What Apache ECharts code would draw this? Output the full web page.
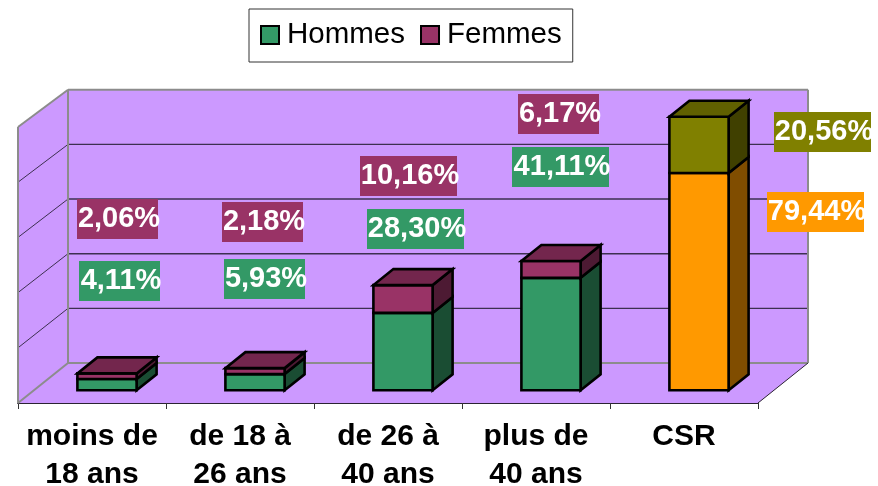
<!DOCTYPE html>
<html lang="en">
<head>
	<meta charset="UTF-8">
	<title>Hommes / Femmes</title>
	<style>
		*{
			margin: 0;
			padding: 0;
		}
		#chart{
			width: 878px;
			height: 486px;
		}
	</style>
	<script src="https://cdn.jsdelivr.net/npm/echarts@6/dist/echarts.min.js"></script>
</head>
<body>
	<div id="chart"></div>
	<script>
		var categories = ['moins de\n18 ans', 'de 18 à\n26 ans', 'de 26 à\n40 ans', 'plus de\n40 ans', 'CSR'];
		var hommes = [4.11, 5.93, 28.30, 41.11, 79.44];
		var femmes = [2.06, 2.18, 10.16, 6.17, 20.56];

		var hommesColors = ['#339966', '#339966', '#339966', '#339966', '#FF9900'];
		var femmesColors = ['#993366', '#993366', '#993366', '#993366', '#808000'];

		// the labels were dragged by hand in the original, top-left corner of each box
		var hommesBoxes = [[79, 261], [224, 259], [367, 209], [512, 147], [767, 192]];
		var femmesBoxes = [[77, 199], [222, 202], [360, 156], [518, 94], [774, 112]];

		var FONT = '"Liberation Sans", Arial, sans-serif';
		var DEPTH_X = 50, DEPTH_Y = 40;
		var BAR_FROM = 0.3, BAR_TO = 0.7, BAR_WIDTH = 0.4, BAR_SCALE = 0.991, BAR_LIFT = 0.7;
		var WALL_SHRINK = 0.99;
		var GREY = '#8c8c8c', GRID = '#3d3050';

		var chart = echarts.init(document.getElementById('chart'));

		// darker face of a bar, k is the share of the colour that is kept
		function shade(hex, k) {
			var n = parseInt(hex.slice(1), 16);
			var r = Math.round((n >> 16) * k), g = Math.round(((n >> 8) & 255) * k), b = Math.round((n & 255) * k);
			return 'rgb(' + r + ',' + g + ',' + b + ')';
		}

		function wallPoint(api, v, d) {
			var p = api.coord([0, v]), y0 = api.coord([0, 0])[1];
			var left = p[0] - api.size([1, 0])[0] / 2;
			return [left + d * DEPTH_X, y0 + (p[1] - y0) * (1 - (1 - WALL_SHRINK) * d) - d * DEPTH_Y];
		}

		function renderWalls(params, api) {
			var w = api.size([1, 0])[0] * categories.length;
			var a = wallPoint(api, 0, 0), b = wallPoint(api, 100, 0);
			var c = wallPoint(api, 100, 1), e = wallPoint(api, 0, 1);
			var right = function (p) { return [p[0] + w, p[1]]; };
			var children = [
				poly([a, b, c, e], '#CC99FF'),
				poly([c, right(c), right(e), e], '#CC99FF'),
				poly([a, e, right(e), right(a)], '#CC99FF')
			];
			[20, 40, 60, 80].forEach(function (v) {
				var f = wallPoint(api, v, 0), g = wallPoint(api, v, 1);
				children.push(line(f, g, GRID, 1));
				children.push(line(g, right(g), GRID, 1.4));
			});
			children.push(line(b, c, GREY, 2));
			children.push(line(a, b, GREY, 2));
			children.push(line(c, right(c), GREY, 2));
			children.push(line(right(c), right(e), GREY, 2));
			children.push(line(e, right(e), GREY, 2));
			children.push(line(c, e, GREY, 2));
			children.push(line(a, e, GREY, 2));
			children.push(line(right(a), right(e), '#2b2333', 1));
			return { type: 'group', children: children };
		}

		function poly(points, fill, stroke) {
			return {
				type: 'polygon',
				shape: { points: points },
				style: { fill: fill, stroke: stroke || null, lineWidth: 2.6, lineJoin: 'miter' }
			};
		}

		function line(p, q, color, width) {
			return {
				type: 'line',
				shape: { x1: p[0], y1: p[1], x2: q[0], y2: q[1] },
				style: { stroke: color, lineWidth: width }
			};
		}

		function renderBar(colors, withTop) {
			return function (params, api) {
				var cat = api.value(0);
				var band = api.size([1, 0])[0];
				var y0 = api.coord([cat, 0])[1];
				var cx = api.coord([cat, 0])[0];
				var half = band * BAR_WIDTH / 2;
				var dx = (BAR_TO - BAR_FROM) * DEPTH_X, dy = (BAR_TO - BAR_FROM) * DEPTH_Y;
				var baseY = y0 - BAR_FROM * DEPTH_Y - BAR_LIFT;
				var x1 = cx + BAR_FROM * DEPTH_X - half, x2 = cx + BAR_FROM * DEPTH_X + half;
				var yLow = baseY + (api.coord([cat, api.value(1)])[1] - y0) * BAR_SCALE;
				var yTop = baseY + (api.coord([cat, api.value(2)])[1] - y0) * BAR_SCALE;
				var color = colors[cat];
				var children = [
					poly([[x2, yLow], [x2 + dx, yLow - dy], [x2 + dx, yTop - dy], [x2, yTop]], shade(color, 0.5), '#000'),
					poly([[x1, yLow], [x2, yLow], [x2, yTop], [x1, yTop]], color, '#000')
				];
				if (withTop) {
					children.push(poly([[x1, yTop], [x2, yTop], [x2 + dx, yTop - dy], [x1 + dx, yTop - dy]], shade(color, 0.75), '#000'));
				}
				return { type: 'group', children: children };
			};
		}

		function labelElements(values, colors, boxes) {
			return values.map(function (v, i) {
				var w = v < 10 ? 81 : 97;
				return {
					type: 'group',
					x: boxes[i][0],
					y: boxes[i][1],
					children: [
						{ type: 'rect', z: 10, shape: { x: 0, y: 0, width: w, height: 40 }, style: { fill: colors[i] } },
						{
							type: 'text',
							z: 11,
							x: w / 2 + 1.5,
							y: 19.5,
							style: {
								text: v.toFixed(2).replace('.', ',') + '%',
								fill: '#fff',
								font: 'bold 29px ' + FONT,
								align: 'center',
								verticalAlign: 'middle'
							}
						}
					]
				};
			});
		}

		var legendBorder = '#000';
		var option = {
			animation: false,
			backgroundColor: '#fff',
			legend: {
				left: 249,
				top: 9,
				padding: [11, 11, 12, 11],
				itemWidth: 18,
				itemHeight: 18,
				itemGap: 15,
				backgroundColor: '#fff',
				borderColor: '#333',
				borderWidth: 1,
				textStyle: { fontFamily: FONT, fontSize: 29.5, color: '#000', padding: [0, 0, 1, 3] },
				data: [
					{ name: 'Hommes', icon: 'rect', itemStyle: { color: '#339966', borderColor: legendBorder, borderWidth: 2 } },
					{ name: 'Femmes', icon: 'rect', itemStyle: { color: '#993366', borderColor: legendBorder, borderWidth: 2 } }
				]
			},
			grid: { left: 18, width: 740, top: 127, height: 276, outerBoundsMode: 'none' },
			xAxis: {
				type: 'category',
				data: categories,
				axisLine: { lineStyle: { color: '#2b2333', width: 2 } },
				axisTick: { show: true, length: 6, lineStyle: { color: '#333', width: 1 } },
				axisLabel: {
					interval: 0,
					margin: 15,
					lineHeight: 38,
					color: '#000',
					fontFamily: FONT,
					fontWeight: 'bold',
					fontSize: 30
				}
			},
			yAxis: { type: 'value', min: 0, max: 100, interval: 20, show: false },
			series: [
				{ name: 'walls', type: 'custom', silent: true, z: 1, renderItem: renderWalls, data: [[0, 0]] },
				{
					name: 'Hommes',
					type: 'custom',
					z: 2,
					renderItem: renderBar(hommesColors, false),
					encode: { x: 0, y: 2 },
					data: hommes.map(function (v, i) { return [i, 0, v]; })
				},
				{
					name: 'Femmes',
					type: 'custom',
					z: 3,
					renderItem: renderBar(femmesColors, true),
					encode: { x: 0, y: 2 },
					data: femmes.map(function (v, i) { return [i, hommes[i], hommes[i] + v]; })
				}
			],
			graphic: {
				elements: labelElements(hommes, hommesColors, hommesBoxes).concat(labelElements(femmes, femmesColors, femmesBoxes))
			}
		};
		chart.setOption(option);
	</script>
</body>
</html>
